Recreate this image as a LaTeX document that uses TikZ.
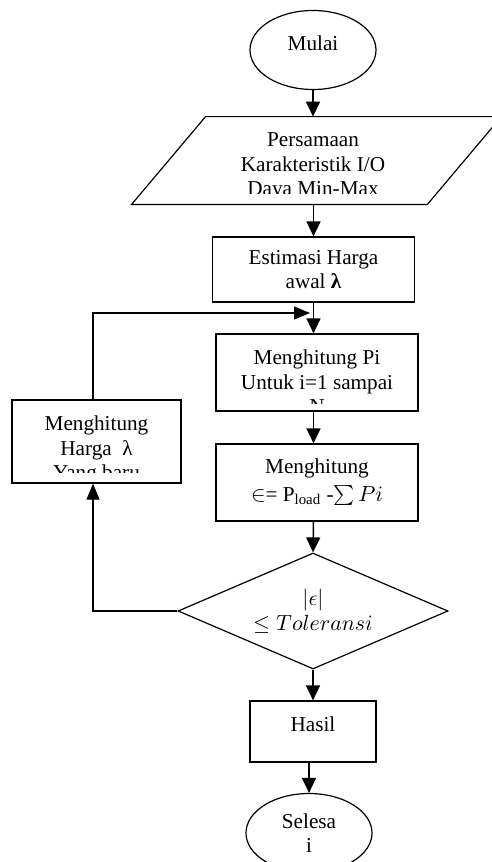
\documentclass[tikz,border=0pt]{standalone}
\usepackage{fontspec}
\setmainfont{Liberation Serif}
\usetikzlibrary{shapes.geometric,arrows.meta}

\begin{document}
\begin{tikzpicture}[x=0.5pt,y=-0.5pt,
    font=\fontsize{10.6}{12.3}\selectfont,
    box/.style={draw,line width=0.6pt,inner sep=0pt},
    term/.style={box,ellipse,minimum width=63pt,minimum height=39.5pt},
    txt/.style={align=center,inner sep=0pt,anchor=north},
    arr/.style={line width=0.75pt,-{Triangle[length=7.5pt,width=7pt]}},
    back/.style={line width=0.6pt,-{Triangle[length=8pt,width=6.5pt]}}]
    \clip (0,0) rectangle (492,862);

    \node[term,text depth=7pt] (mulai) at (313,50) {Mulai};

    % input data
    \node[inner sep=0pt,minimum width=147.5pt,minimum height=43.5pt] (io) at (316.5,160.5) {};
    \draw[line width=0.6pt] ([xshift=18.5pt]io.north west) -- ([xshift=18.5pt]io.north east)
        -- ([xshift=-18.5pt]io.south east) -- ([xshift=-18.5pt]io.south west) -- cycle;
    \begin{scope}
        \clip (132,117) rectangle (501,193.5);
        \node[txt] (iotxt) at (313,132.5) {Persamaan\\Karakteristik I/O\\Daya Min-Max};
    \end{scope}

    \node[box,align=center,minimum width=101pt,minimum height=32.5pt] (est) at (313.5,269.5) {Estimasi Harga\\awal \textbf{λ}};

    \node[box,minimum width=101pt,minimum height=38.5pt] (pi) at (317,372.5) {};
    \begin{scope}
        \clip (216,334) rectangle (418,403);
        \node[txt] (pitxt) at (317,349.6) {Menghitung Pi\\Untuk i=1 sampai\\N};
    \end{scope}

    \node[box,align=center,minimum width=101pt,minimum height=38.5pt] (eps) at (317,482.5)
        {Menghitung\\[1.5pt]$\in$= P\textsubscript{load} -$\sum Pi$};

    \node[box,diamond,aspect=2.33,align=center,minimum width=135pt,minimum height=58pt] (cek) at (313,611)
        {$|\epsilon|$\\$\leq Toleransi$};

    \node[box,minimum width=63pt,minimum height=30.5pt,text depth=7pt] (hasil) at (313,731.5) {Hasil};
    \node[term,align=center] (selesai) at (309,833) {Selesa\\i};

    % lambda baru
    \node[box,minimum width=84.5pt,minimum height=41.5pt] (baru) at (96.5,441.5) {};
    \begin{scope}
        \clip (12,400) rectangle (181,472);
        \node[txt] (barutxt) at (96.5,415.6) {Menghitung\\Harga\ \ λ\\Yang baru};
    \end{scope}

    \draw[arr] (mulai.south) -- (mulai.south |- io.north);
    \draw[arr] (est.north |- io.south) -- (est.north);
    \draw[arr] (est.south) -- (est.south |- pi.north);
    \draw[arr] (est.south |- pi.south) -- (est.south |- eps.north);
    \draw[arr] (est.south |- eps.south) -- (cek.north);
    \draw[arr] (cek.south) -- (hasil.north);
    \draw[arr] (hasil.south -| selesai.north) -- (selesai.north);

    % loop kembali
    \coordinate (gabung) at (310,313);
    \draw[back] (cek.west) -| ([xshift=-1.75pt]baru.south);
    \draw[back] ([xshift=-1.75pt]baru.north) |- (gabung);
\end{tikzpicture}
\end{document}
